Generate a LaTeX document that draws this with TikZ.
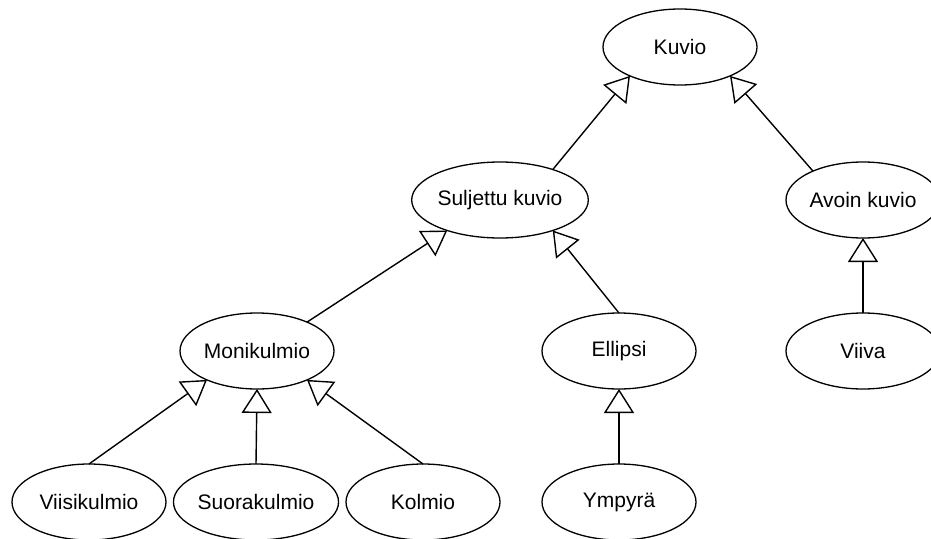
\documentclass[tikz,border=0pt]{standalone}
\usepackage{fontspec}
\setmainfont{Liberation Sans}
\usetikzlibrary{arrows.meta,shapes.geometric}
\begin{document}
\begin{tikzpicture}[x=1pt,y=-1pt,
  cls/.style={draw, ellipse, minimum width=154pt, minimum height=76pt,
    inner sep=0pt, outer sep=0pt, line width=1.3pt,
    font=\fontsize{21}{25}\selectfont},
  inherit/.style={line width=1.4pt,
    -{Triangle[open, length=24pt, width=30pt, line width=1.4pt]}}]
\clip (0,0) rectangle (931,538);

% class hierarchy nodes
\node[cls] (kuvio)     at (680,47)  {Kuvio};
\node[cls] (suljettu)  at (500,200) {Suljettu kuvio};
\node[cls] (avoin)     at (863,200) {Avoin kuvio};
\node[cls] (moni)      at (257,351) {Monikulmio};
\node[cls] (ellipsi)   at (619,351) {Ellipsi};
\node[cls] (viiva)     at (863,351) {Viiva};
\node[cls] (viisi)     at (89,502)  {Viisikulmio};
\node[cls] (suora)     at (256,502) {Suorakulmio};
\node[cls] (kolmio)    at (423,502) {Kolmio};
\node[cls] (ympyra)    at (619,502) {Ympyrä};

% generalisation arrows (child -> parent)
\draw[inherit] (suljettu.30) -- (kuvio.210);
\draw[inherit] (avoin.150)   -- (kuvio.-30);
\draw[inherit] (moni.30)     -- (suljettu.210);
\draw[inherit] (ellipsi.north) -- (suljettu.-30);
\draw[inherit] (viiva.north) -- (avoin.south);
\draw[inherit] (viisi.north) -- (moni.210);
\draw[inherit] (suora.north) -- (moni.south);
\draw[inherit] (kolmio.north) -- (moni.-30);
\draw[inherit] (ympyra.north) -- (ellipsi.south);
\end{tikzpicture}
\end{document}
